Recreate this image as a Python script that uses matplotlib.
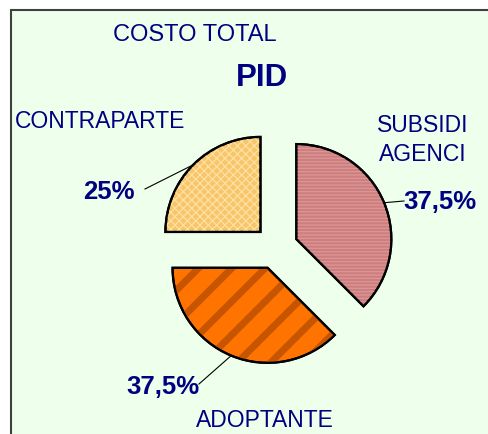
import matplotlib.pyplot as plt
import matplotlib.patches as mpatches
import numpy as np

# data
labels = ["SUBSIDI\nAGENCI", "ADOPTANTE", "CONTRAPARTE"]
values = [37.5, 37.5, 25]
pct_text = ["37,5%", "37,5%", "25%"]
fills = ["#CF7E7E", "#FF7400", "#F8C66A"]
hatch_cols = ["#DC9A9A", "#C65400", "#FFE3A6"]
hatches = ["-----", "/", "xxxx"]

navy = "#000080"
W, H = 488, 435

plt.rcParams['font.family'] = ['Liberation Sans', 'DejaVu Sans']

fig = plt.figure(figsize=(W/100, H/100), dpi=100)
fig.patch.set_facecolor("white")
ax = fig.add_axes([0, 0, 1, 1])

# chart area frame
ax.add_patch(mpatches.Rectangle((11, -10), W, H - 11 + 10, facecolor="#EEFFEC",
                                edgecolor="#404040", lw=1.5, zorder=0))

cx, cy, r = 276, H - 248.5, 95
wedges, _ = ax.pie(values, startangle=90, counterclock=False, colors=fills,
                   explode=[22]*3, center=(cx, cy), radius=r, frame=True,
                   wedgeprops=dict(edgecolor="black", linewidth=1.6))
ax.set_xlim(0, W)
ax.set_ylim(0, H)
ax.set_aspect("equal")
ax.axis("off")

for w, hc, hp in zip(wedges, hatch_cols, hatches):
    lw = 5 if hp == "/" else 0.8
    with plt.rc_context({'hatch.linewidth': lw}):
        ov = mpatches.Wedge(w.center, w.r, w.theta1, w.theta2, facecolor="none",
                            edgecolor=hc, hatch=hp, lw=0, zorder=w.get_zorder() + 0.1)
        ax.add_patch(ov)
    outline = mpatches.Wedge(w.center, w.r, w.theta1, w.theta2, facecolor="none",
                             edgecolor="black", lw=1.6, zorder=w.get_zorder() + 0.2)
    ax.add_patch(outline)

# percent labels with leader lines
pct_pos = [(440, H - 202), (163, H - 387), (109, H - 192)]
for w, txt, (tx, ty) in zip(wedges, pct_text, pct_pos):
    th = np.deg2rad((w.theta1 + w.theta2) / 2)
    px = w.center[0] + w.r * np.cos(th)
    py = w.center[1] + w.r * np.sin(th)
    ax.text(tx, ty, txt, ha="center", va="center", fontsize=18.5,
            fontweight="bold", color=navy, zorder=5)
    sx = tx - 36 if tx > px else tx + 28
    if ty < py - 20:
        sx, sy = tx + 36, ty + 2
    else:
        sy = ty
    ax.plot([sx, px], [sy, py], color="black", lw=0.8, zorder=4)

# category labels
ax.text(423, H - 140, labels[0], ha="center", va="center", fontsize=16.5,
        color=navy, linespacing=1.3)
ax.text(265, H - 421, labels[1], ha="center", va="center", fontsize=16.5,
        color=navy)
ax.text(100, H - 122, labels[2], ha="center", va="center", fontsize=16.5,
        color=navy)

ax.text(195, H - 35, "COSTO TOTAL", ha="center", va="center", fontsize=17,
        color=navy)
ax.text(262, H - 78, "PID", ha="center", va="center", fontsize=22.5,
        fontweight="bold", color=navy)

fig.savefig("out.png", dpi=100)
